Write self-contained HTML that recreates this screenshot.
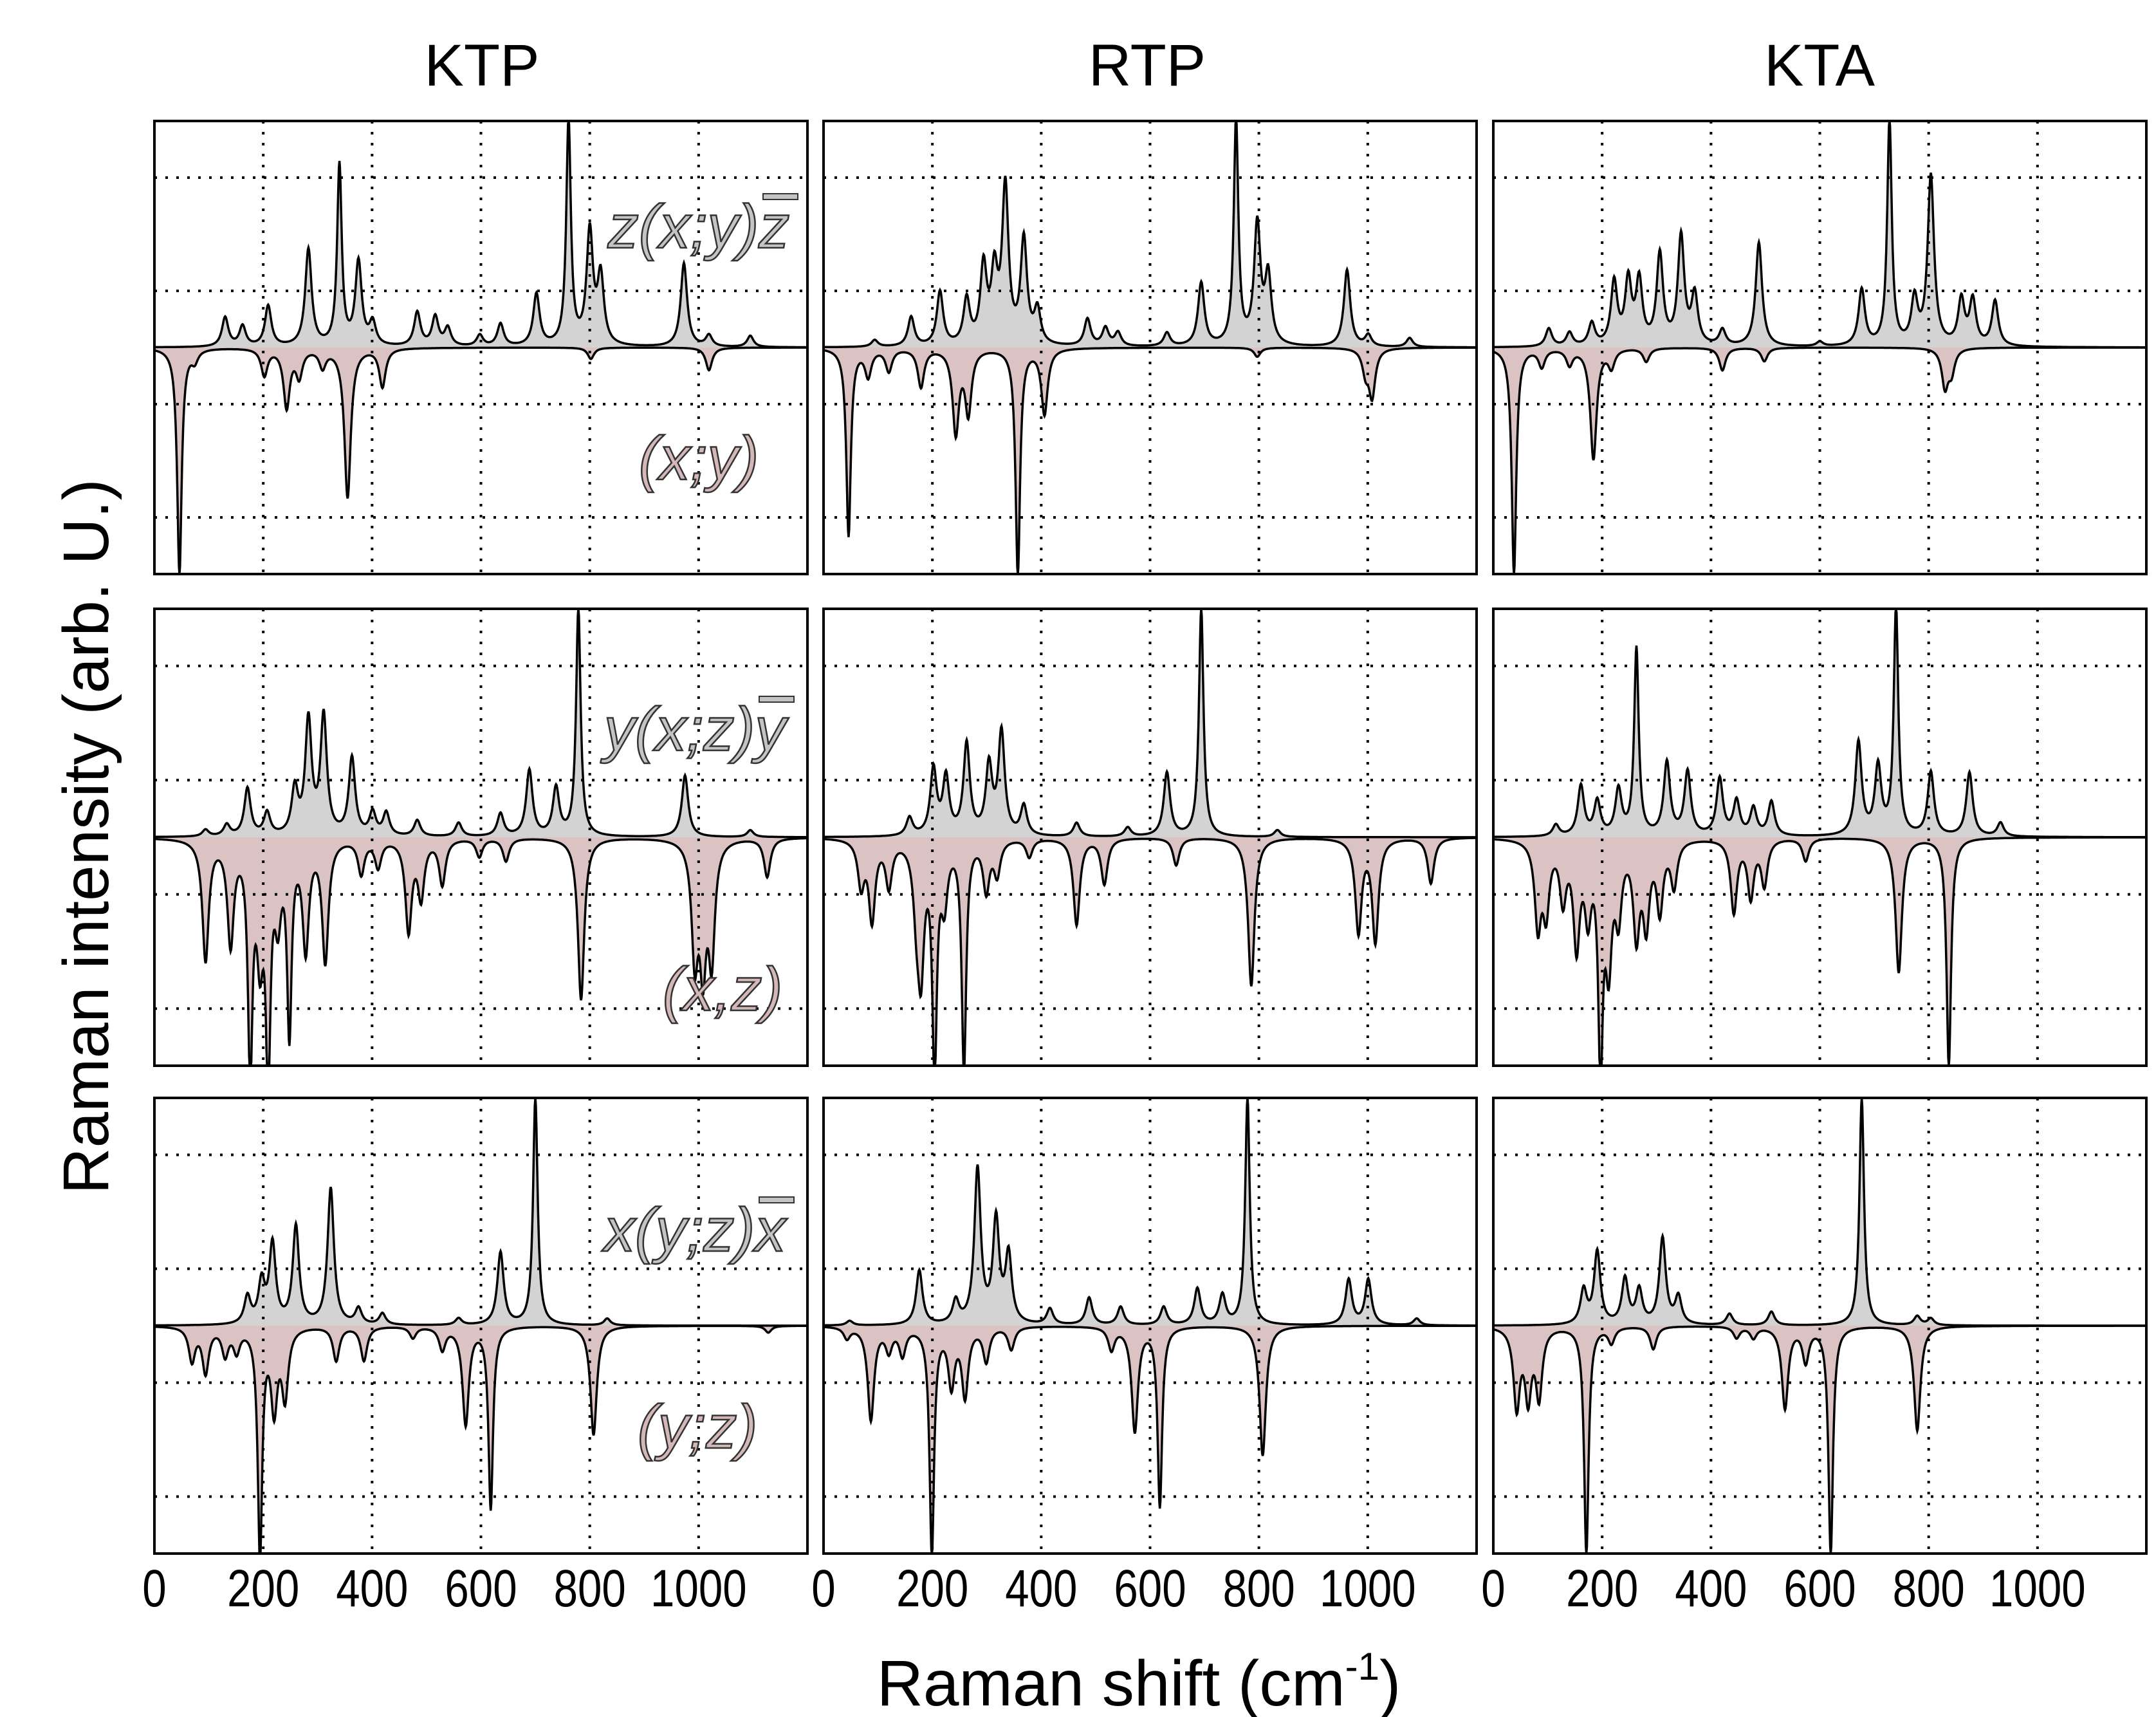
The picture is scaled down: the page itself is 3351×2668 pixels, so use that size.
<!DOCTYPE html>
<html><head><meta charset="utf-8"><style>
html,body{margin:0;padding:0;background:#fff}
svg{display:block}
</style></head><body>
<svg id="chart" xmlns="http://www.w3.org/2000/svg" width="3351" height="2668" viewBox="0 0 3351 2668" font-family="Liberation Sans, sans-serif">
<g id="titles">
<text x="749" y="133" font-size="92" text-anchor="middle">KTP</text>
<text x="1783" y="133" font-size="92" text-anchor="middle">RTP</text>
<text x="2828" y="133" font-size="92" text-anchor="middle">KTA</text>
</g>
<text transform="translate(168,1300) rotate(-90)" font-size="100" text-anchor="middle">Raman intensity (arb. U.)</text>
<text x="1770" y="2650" font-size="100" text-anchor="middle">Raman shift (cm<tspan font-size="60" dy="-40">-1</tspan><tspan dy="40">)</tspan></text>
<g id="panels"></g>
<g id="labels" font-style="italic" font-size="96" stroke="#333" stroke-width="2.5" text-anchor="middle"></g>
</svg>
<script>
// ---- data: peak positions (cm-1) and amplitudes (fraction of half panel height) ----
const xTicks = [0, 200, 400, 600, 800, 1000];
const colNames = ["KTP", "RTP", "KTA"];
const rowNames = ["zxy", "yxz", "xyz"];

// KTP
const ktp1UpPos = [130,162,209,283,340,375,401,483,516,539,598,636,702,761,800,820,973,1019,1095];
const ktp1UpAmp = [0.13,0.09,0.18,0.43,0.8,0.37,0.1,0.15,0.13,0.08,0.05,0.1,0.23,1.0,0.5,0.3,0.37,0.05,0.05];
const ktp1DnPos = [46,74,202,243,266,309,355,419,802,1019];
const ktp1DnAmp = [1.0,0.05,0.12,0.26,0.12,0.08,0.66,0.17,0.05,0.1];
const ktp2UpPos = [94,133,171,207,258,283,311,363,401,426,483,559,636,689,738,779,975,1095];
const ktp2UpAmp = [0.03,0.05,0.21,0.1,0.2,0.5,0.52,0.34,0.1,0.1,0.07,0.06,0.1,0.29,0.21,1.0,0.27,0.03];
const ktp2DnPos = [94,140,176,194,209,227,248,278,314,380,411,467,490,529,597,646,784,993,1008,1024,1126];
const ktp2DnAmp = [0.53,0.45,0.99,0.45,1.0,0.3,0.82,0.47,0.53,0.15,0.12,0.4,0.25,0.2,0.08,0.1,0.71,0.5,0.52,0.5,0.17];
const ktp3UpPos = [171,197,217,260,324,375,419,559,636,700,832];
const ktp3UpAmp = [0.12,0.18,0.35,0.43,0.6,0.07,0.05,0.03,0.32,1.0,0.03];
const ktp3DnPos = [69,94,130,151,194,220,240,334,385,475,529,572,618,807,1128];
const ktp3DnAmp = [0.15,0.2,0.12,0.1,1.0,0.35,0.3,0.15,0.15,0.05,0.1,0.43,0.8,0.48,0.03];
// RTP
const rtp1UpPos = [94,161,214,263,294,314,334,368,393,485,518,541,631,694,758,797,817,962,1001,1077];
const rtp1UpAmp = [0.03,0.13,0.24,0.2,0.34,0.3,0.69,0.46,0.15,0.12,0.08,0.06,0.06,0.28,1.0,0.53,0.3,0.34,0.05,0.04];
const rtp1DnPos = [46,82,120,179,243,266,357,406,797,996,1008];
const rtp1DnAmp = [0.83,0.12,0.1,0.17,0.37,0.28,1.0,0.29,0.04,0.1,0.21];
const rtp2UpPos = [158,202,225,263,304,327,368,465,559,631,694,834];
const rtp2UpAmp = [0.08,0.29,0.25,0.4,0.3,0.45,0.13,0.06,0.04,0.28,1.0,0.03];
const rtp2DnPos = [69,89,120,171,179,204,222,258,299,319,378,465,516,648,786,983,1014,1116];
const rtp2DnAmp = [0.2,0.35,0.2,0.25,0.53,1.0,0.25,1.0,0.22,0.15,0.08,0.38,0.2,0.12,0.65,0.41,0.45,0.2];
const rtp3UpPos = [48,176,243,283,317,340,416,488,546,625,687,733,779,965,1001,1090];
const rtp3UpAmp = [0.02,0.24,0.1,0.68,0.45,0.3,0.07,0.12,0.08,0.08,0.16,0.13,1.0,0.2,0.2,0.03];
const rtp3DnPos = [43,87,120,145,199,235,260,299,345,529,572,618,807];
const rtp3DnAmp = [0.05,0.41,0.1,0.12,1.0,0.25,0.3,0.15,0.1,0.1,0.46,0.79,0.57];
// KTA
const kta1UpPos = [102,140,181,222,248,268,306,345,370,421,488,600,677,728,774,804,860,881,922];
const kta1UpAmp = [0.08,0.06,0.1,0.28,0.28,0.28,0.4,0.48,0.22,0.07,0.46,0.02,0.25,1.0,0.2,0.75,0.2,0.2,0.2];
const kta1DnPos = [38,89,140,184,217,281,421,498,830,842];
const kta1DnAmp = [1.0,0.08,0.07,0.49,0.08,0.06,0.1,0.06,0.17,0.1];
const kta2UpPos = [115,161,191,230,263,319,357,416,447,478,511,671,707,740,804,875,932];
const kta2UpAmp = [0.05,0.22,0.15,0.2,0.82,0.32,0.28,0.25,0.15,0.12,0.15,0.41,0.3,1.0,0.28,0.28,0.06];
const kta2DnPos = [82,97,128,153,174,197,212,230,263,281,306,332,442,473,498,574,745,837];
const kta2DnAmp = [0.37,0.3,0.25,0.45,0.3,0.96,0.5,0.3,0.4,0.35,0.3,0.2,0.32,0.25,0.2,0.1,0.59,1.0];
const kta3UpPos = [166,191,242,268,311,340,434,511,677,779,804];
const kta3UpAmp = [0.15,0.32,0.2,0.15,0.38,0.12,0.05,0.06,1.0,0.04,0.03];
const kta3DnPos = [43,64,84,171,217,294,447,478,536,574,620,779];
const kta3DnAmp = [0.35,0.3,0.3,1.0,0.07,0.1,0.05,0.05,0.36,0.15,1.0,0.46];

const upPos = [[ktp1UpPos,rtp1UpPos,kta1UpPos],[ktp2UpPos,rtp2UpPos,kta2UpPos],[ktp3UpPos,rtp3UpPos,kta3UpPos]];
const upAmp = [[ktp1UpAmp,rtp1UpAmp,kta1UpAmp],[ktp2UpAmp,rtp2UpAmp,kta2UpAmp],[ktp3UpAmp,rtp3UpAmp,kta3UpAmp]];
const dnPos = [[ktp1DnPos,rtp1DnPos,kta1DnPos],[ktp2DnPos,rtp2DnPos,kta2DnPos],[ktp3DnPos,rtp3DnPos,kta3DnPos]];
const dnAmp = [[ktp1DnAmp,rtp1DnAmp,kta1DnAmp],[ktp2DnAmp,rtp2DnAmp,kta2DnAmp],[ktp3DnAmp,rtp3DnAmp,kta3DnAmp]];

// ---- layout ----
const NS = "http://www.w3.org/2000/svg";
const colX = [240, 1280, 2321];
const PW = 1015;
const rowY = [188, 946, 1706];
const rowH = [704, 710, 708];
const XMAX = 1200;
const GAMMA = 7;

function el(tag, attrs, parent){
  const e = document.createElementNS(NS, tag);
  for (const k in attrs) e.setAttribute(k, attrs[k]);
  parent.appendChild(e);
  return e;
}
function spec(x, pos, amp){
  let s = 0;
  for (let i=0;i<pos.length;i++){
    const g = (amp[i] > 0.75) ? 5 : GAMMA;
    const d = (x-pos[i])/g;
    s += amp[i]/(1+d*d);
  }
  return s;
}
const root = document.getElementById('panels');
for (let r=0;r<3;r++){
  for (let c=0;c<3;c++){
    const L = colX[c], T = rowY[r], H = rowH[r], base = T + H/2, half = H/2;
    const xs = v => L + v/XMAX*PW;
    const ys = v => base - Math.max(-1, Math.min(1, v))*half;
    const g = el('g', {}, root);
    
    
    const clipId = 'clip'+r+c;
    const cp = el('clipPath', {id: clipId}, g);
    el('rect', {x:L, y:T, width:PW, height:H}, cp);
    const inner = el('g', {'clip-path':'url(#'+clipId+')'}, g);
    let up = [], dn = [];
    for (let x=0;x<=XMAX;x+=1){
      up.push([xs(x), ys(spec(x, upPos[r][c], upAmp[r][c]))]);
      dn.push([xs(x), ys(-spec(x, dnPos[r][c], dnAmp[r][c]))]);
    }
    const ptsStr = a => a.map(p=>p[0].toFixed(1)+','+p[1].toFixed(1)).join(' ');
    const fu = el('polygon', {points: xs(0)+','+base+' '+ptsStr(up)+' '+xs(XMAX)+','+base, fill:'#d3d3d3', stroke:'none'}, inner);
    
    
    const fd = el('polygon', {points: xs(0)+','+base+' '+ptsStr(dn)+' '+xs(XMAX)+','+base, fill:'#dcc3c3', stroke:'none'}, inner);
    
    
    for (const t of [200,400,600,800,1000]){
      const gl = el('line', {x1:xs(t), x2:xs(t), y1:T, y2:T+H, stroke:'#000', 'stroke-width':4, 'stroke-dasharray':'4 13'}, inner);
      
      
    }
    for (const v of [0.75,0.25,-0.25,-0.75]){
      const gl = el('line', {x1:L, x2:L+PW, y1:ys(v), y2:ys(v), stroke:'#000', 'stroke-width':4, 'stroke-dasharray':'4 13'}, inner);
      
      
    }
    const lu = el('polyline', {points: ptsStr(up), fill:'none', stroke:'#000', 'stroke-width':3.5}, inner);
    
    
    const ld = el('polyline', {points: ptsStr(dn), fill:'none', stroke:'#000', 'stroke-width':3.5}, inner);
    
    
    const fr = el('rect', {x:L, y:T, width:PW, height:H, fill:'none', stroke:'#000', 'stroke-width':4}, g);
    
    
    if (r===2){
      for (const t of xTicks){
        const tx = el('text', {x:0, y:0, 'font-size':82, 'text-anchor':'middle', transform:'translate('+xs(t)+',2496) scale(0.82,1)'}, g);
        tx.textContent = String(t);
        
        
      }
    }
  }
}
const lg = document.getElementById('labels');
const labelData = [
  ["z(x;y)z", 1086, 385, "#c4c4c4", true, "geom-label-zxyz"],
  ["(x;y)", 1086, 745, "#d4b8b8", false, "pol-label-xy"],
  ["y(x;z)y", 1080, 1166, "#c4c4c4", true, "geom-label-yxzy"],
  ["(x,z)", 1123, 1570, "#d4b8b8", false, "pol-label-xz"],
  ["x(y;z)x", 1080, 1944, "#c4c4c4", true, "geom-label-xyzx"],
  ["(y;z)", 1084, 2250, "#d4b8b8", false, "pol-label-yz"]
];
for (const d of labelData){
  const t = el('text', {x:d[1], y:d[2], fill:d[3]}, lg);
  t.textContent = d[0];
  
  
  if (d[4]){
    const bar = el('rect', {x:d[1]+100, y:d[2]-84, width:54, height:9, fill:d[3], stroke:'#333', 'stroke-width':2}, lg);
    
    
  }
}
</script>
</body></html>
